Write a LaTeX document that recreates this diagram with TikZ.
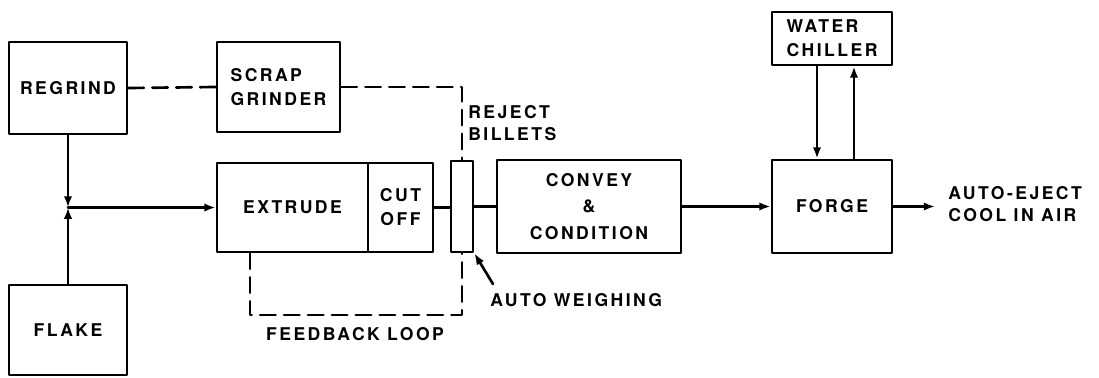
\documentclass[tikz,border=0pt]{standalone}
\usepackage{fontspec}
\setmainfont{TeX Gyre Heros}[LetterSpace=14]
\usetikzlibrary{arrows.meta}

\begin{document}
\begin{tikzpicture}[x=0.025cm,y=-0.025cm,line cap=round,line join=round,
  box/.style={draw,line width=2pt,inner sep=0pt,align=center,font=\fontsize{12.5}{17}\selectfont\bfseries},
  flow/.style={line width=1.9pt},
  feed/.style={line width=1.9pt,dash pattern=on 11pt off 6pt},
  tip/.style={-{Latex[length=8pt,width=6pt]}},
  lbl/.style={align=left,inner sep=0pt,font=\fontsize{12.5}{16}\selectfont\bfseries}]
  \useasboundingbox (0,0) rectangle (1099,377);
  % boxes
  \node[box,minimum width=2.95cm,minimum height=2.3cm] (regrind) at (68,88) {REGRIND};
  \node[box,minimum width=2.95cm,minimum height=2.25cm] (flake) at (68,330) {FLAKE};
  \node[box,align=left,minimum width=3.075cm,minimum height=2.25cm] (scrap) at (278.5,87) {SCRAP\\GRINDER};
  \node[box,minimum width=3.775cm,minimum height=2.225cm] (extrude) at (292.5,207.5) {EXTRUDE};
  \node[box,minimum width=1.625cm,minimum height=2.225cm] (cutoff) at (400.5,207.5) {CUT\\OFF};
  \node[box,minimum width=0.55cm,minimum height=2.275cm] (weigh) at (462,206.5) {};
  \node[box,font=\fontsize{12.5}{19}\selectfont\bfseries,minimum width=4.6cm,minimum height=2.325cm] (convey) at (589,206.5) {CONVEY\\\&\\CONDITION};
  \node[box,minimum width=3cm,minimum height=2.325cm] (forge) at (832,206.5) {FORGE};
  \node[box,align=left,minimum width=3cm,minimum height=1.325cm] (chiller) at (832,38.5) {WATER\\CHILLER};
  % labels
  \node[lbl,anchor=west] (reject) at (468,123) {REJECT\\BILLETS};
  \node[lbl,anchor=west] (auto) at (490,300) {AUTO WEIGHING};
  \node[lbl,anchor=center] (loop) at (355,334) {FEEDBACK LOOP};
  \node[lbl,anchor=west] (eject) at (948,204) {AUTO-EJECT\\COOL IN AIR};
  % main flow
  \coordinate (jn) at (regrind.south |- extrude.west);
  \coordinate (out) at (forge.east -| 935,0);
  \draw[flow,tip] (regrind.south) -- (jn); \draw[flow,tip] (flake.north) -- (jn);
  \draw[flow,tip] (jn) -- (extrude.west);
  \draw[flow] (cutoff.east) -- (cutoff.east -| weigh.west); \draw[flow] (weigh.east |- convey.west) -- (convey.west);
  \draw[flow,tip] (convey.east) -- (forge.west);
  \draw[flow,tip] (forge.east) -- (out);
  \draw[flow,tip] (chiller.south -| 817,0) -- (forge.north -| 817,0);
  \draw[flow,tip] (forge.north -| 854,0) -- (chiller.south -| 854,0);
  \coordinate (pt) at (493,284);
  \draw[flow,tip] (pt) -- (weigh.south east);
  % dashed returns
  \draw[feed] (regrind.east) -- (scrap.west);
  \draw[feed] (scrap.east) -| (weigh.north);
  \draw[feed] (extrude.south -| 250,0) -- (250,315) -| (weigh.south);
\end{tikzpicture}
\end{document}
